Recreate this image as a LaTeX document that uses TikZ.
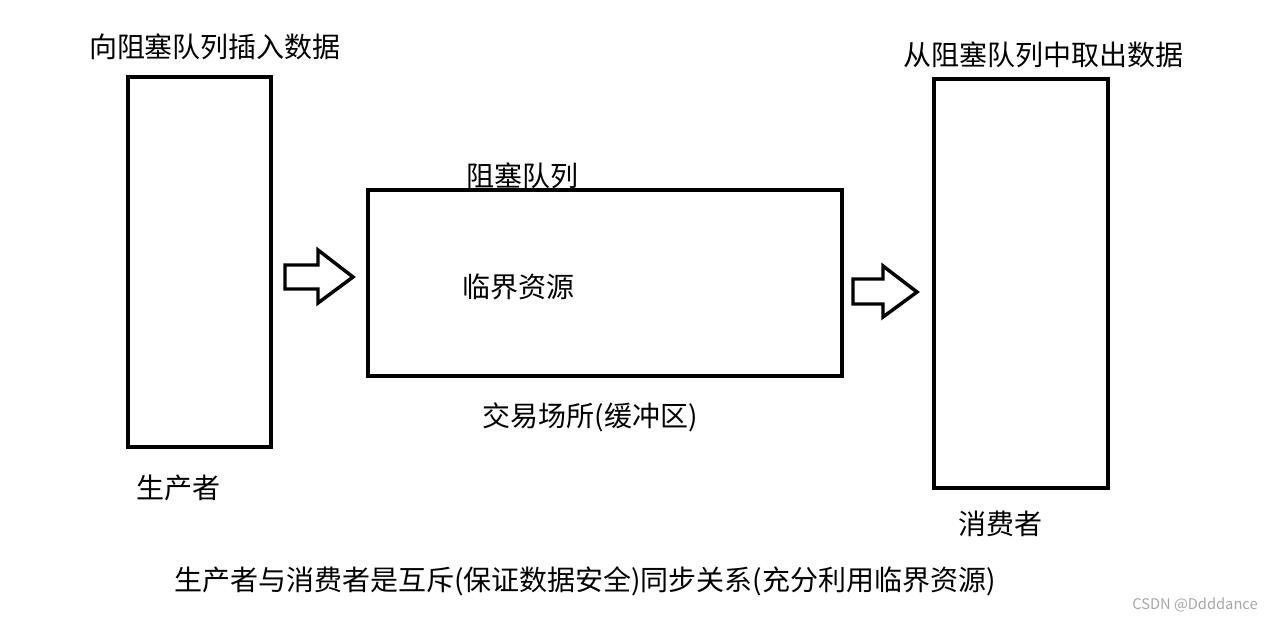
\documentclass[tikz,border=0pt]{standalone}
\usepackage{fontspec}
\newfontfamily\cjk{Noto Sans CJK SC}
\begin{document}
\begin{tikzpicture}[x=0.75pt,y=-0.75pt,
  box/.style={draw=black,line width=3pt},
  blockarrow/.style={draw=black,line width=2.6pt,line join=miter,fill=white},
  lbl/.style={font=\cjk\fontsize{21}{24}\selectfont,inner sep=0pt}]
\useasboundingbox (0,0) rectangle (1275,622);
\draw[box] (128,77) rectangle (271,447);
\draw[box] (368,190) rectangle (842,376);
\draw[box] (934,79) rectangle (1108,488);
\draw[blockarrow] (285,265) -- (318,265) -- (318,250) -- (353,277) -- (318,303) -- (318,289) -- (285,289) -- cycle;
\draw[blockarrow] (853,279) -- (883,279) -- (883,266) -- (917,292) -- (883,317) -- (883,304) -- (853,304) -- cycle;
\node[lbl] (t1) at (215,47) {向阻塞队列插入数据};
\node[lbl] (t2) at (1043,55) {从阻塞队列中取出数据};
\node[lbl] (t3) at (522,176) {阻塞队列};
\node[lbl] (t4) at (518,287) {临界资源};
\node[lbl] (t5) at (590,417) {交易场所(缓冲区)};
\node[lbl] (t6) at (178,488) {生产者};
\node[lbl] (t7) at (1000,524) {消费者};
\node[lbl] (t8) at (585,581) {生产者与消费者是互斥(保证数据安全)同步关系(充分利用临界资源)};
\node[font=\cjk\fontsize{11}{13}\selectfont,text=gray!70,inner sep=0pt] (wm) at (1195,605) {CSDN @Ddddance};
\end{tikzpicture}
\end{document}
